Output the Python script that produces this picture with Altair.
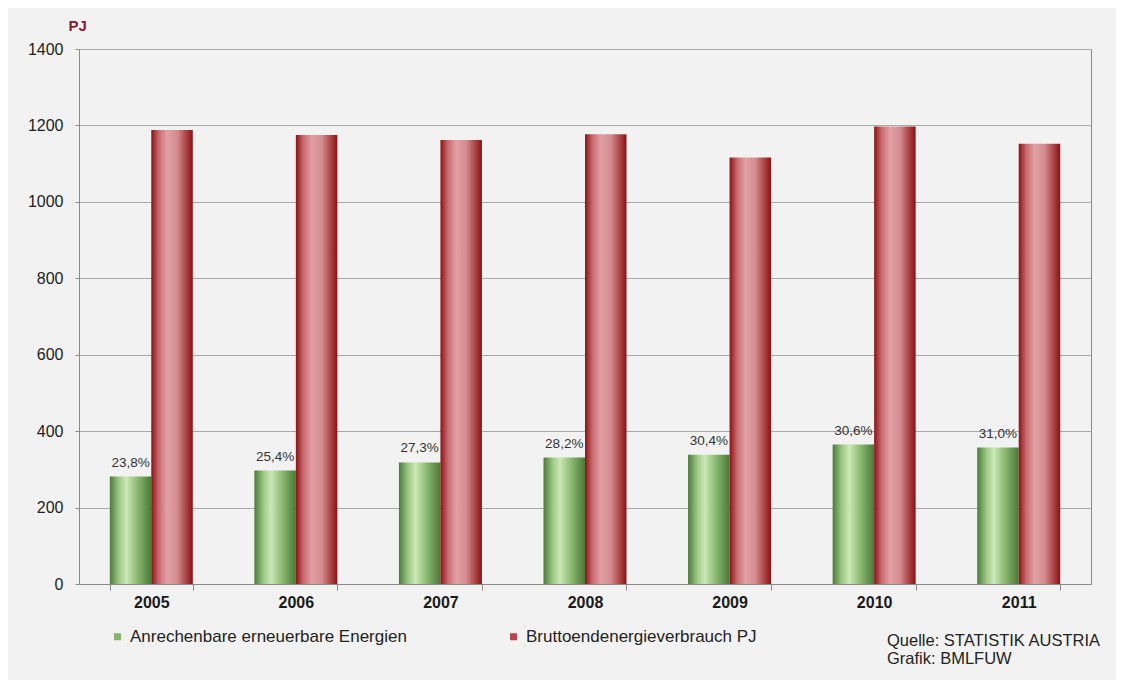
import altair as alt
import pandas as pd

years = ["2005", "2006", "2007", "2008", "2009", "2010", "2011"]
renewable = [281, 297, 318, 331, 338, 365, 357]
gross = [1188, 1175, 1162, 1177, 1116, 1197, 1152]
shares = ["23,8%", "25,4%", "27,3%", "28,2%", "30,4%", "30,6%", "31,0%"]
series = ["Anrechenbare erneuerbare Energien", "Bruttoendenergieverbrauch PJ"]
y_ticks = [0, 200, 400, 600, 800, 1000, 1200, 1400]
source_text = "Quelle: STATISTIK AUSTRIA\nGrafik: BMLFUW"

df = pd.DataFrame({
    "Jahr": years * 2,
    "Reihe": [series[0]] * len(years) + [series[1]] * len(years),
    "PJ": renewable + gross,
    "Anteil": shares + [""] * len(years),
})

FONT = "Liberation Sans"

green_grad = alt.Gradient(
    gradient="linear", x1=0, x2=1, y1=0, y2=0,
    stops=[
        alt.GradientStop(color="#4c7a3a", offset=0),
        alt.GradientStop(color="#9cc884", offset=0.22),
        alt.GradientStop(color="#cbe8b6", offset=0.4),
        alt.GradientStop(color="#8fbd76", offset=0.65),
        alt.GradientStop(color="#4a7836", offset=1),
    ],
)
red_grad = alt.Gradient(
    gradient="linear", x1=0, x2=1, y1=0, y2=0,
    stops=[
        alt.GradientStop(color="#8a1214", offset=0),
        alt.GradientStop(color="#c96a70", offset=0.18),
        alt.GradientStop(color="#e1a0a4", offset=0.38),
        alt.GradientStop(color="#d58c90", offset=0.62),
        alt.GradientStop(color="#8b1012", offset=1),
    ],
)

x_enc = alt.X(
    "Jahr:N", sort=years, title=None,
    scale=alt.Scale(paddingInner=0.426, paddingOuter=0.213),
    axis=alt.Axis(
        labelAngle=0, labelFont=FONT, labelFontSize=16, labelFontWeight="bold",
        labelColor="#1a1a1a", tickBand="extent", tickSize=6, tickColor="#8a8a8a",
        domainColor="#8a8a8a", labelPadding=4, grid=False,
    ),
)
y_enc = alt.Y(
    "PJ:Q",
    scale=alt.Scale(domain=[0, 1400], nice=False),
    axis=alt.Axis(
        values=y_ticks, format="d", title="PJ", titleAngle=0, titleX=-11, titleY=-19,
        titleAlign="left", titleBaseline="alphabetic", titleColor="#8b1c2c",
        titleFontWeight="bold", titleFont=FONT, titleFontSize=15,
        labelFont=FONT, labelFontSize=16, labelColor="#222222", labelPadding=12,
        tickSize=4, tickColor="#8a8a8a", domainColor="#8a8a8a",
        gridColor="#a8a8a8", gridWidth=1,
    ),
)
xo_enc = alt.XOffset("Reihe:N", scale=alt.Scale(domain=series, paddingInner=0, paddingOuter=0))

base = alt.Chart(df)

green_bars = base.transform_filter(alt.datum.Reihe == series[0]).mark_bar(
    fill=green_grad, strokeWidth=0
).encode(x=x_enc, y=y_enc, xOffset=xo_enc)

red_bars = base.transform_filter(alt.datum.Reihe == series[1]).mark_bar(
    fill=red_grad, strokeWidth=0
).encode(x=x_enc, y=y_enc, xOffset=xo_enc)

labels = base.transform_filter(alt.datum.Reihe == series[0]).mark_text(
    font=FONT, fontSize=13.5, color="#333333", dy=-14, baseline="middle", align="center"
).encode(x=x_enc, y=y_enc, xOffset=xo_enc, text="Anteil:N")

legend_layer = base.mark_square(size=0, opacity=1).encode(
    x=x_enc, y=y_enc, xOffset=xo_enc,
    color=alt.Color(
        "Reihe:N",
        scale=alt.Scale(domain=series, range=["#86b46c", "#b8424f"]),
        legend=alt.Legend(
            title=None, orient="none", legendX=30, legendY=579, direction="horizontal",
            symbolType="square", symbolSize=49, symbolStrokeWidth=0,
            labelFont=FONT, labelFontSize=17, labelColor="#222222",
            columnPadding=98, padding=0, labelOffset=4, labelLimit=400,
        ),
    ),
)

source = alt.Chart(pd.DataFrame({"t": [source_text]})).mark_text(
    font=FONT, fontSize=16.5, color="#222222", align="left", baseline="top",
    lineBreak="\n", lineHeight=18,
).encode(text="t:N", x=alt.value(808), y=alt.value(584))

chart = alt.layer(green_bars, red_bars, labels, legend_layer, source).properties(
    width=1012, height=535,
    background="#f2f2f2",
    autosize=alt.AutoSizeParams(type="none"),
    padding={"left": 71, "top": 41, "right": 25, "bottom": 100},
).configure_view(stroke="#8a8a8a", strokeWidth=1)

chart.save("out.html", embed_options={"renderer": "svg", "actions": False})
